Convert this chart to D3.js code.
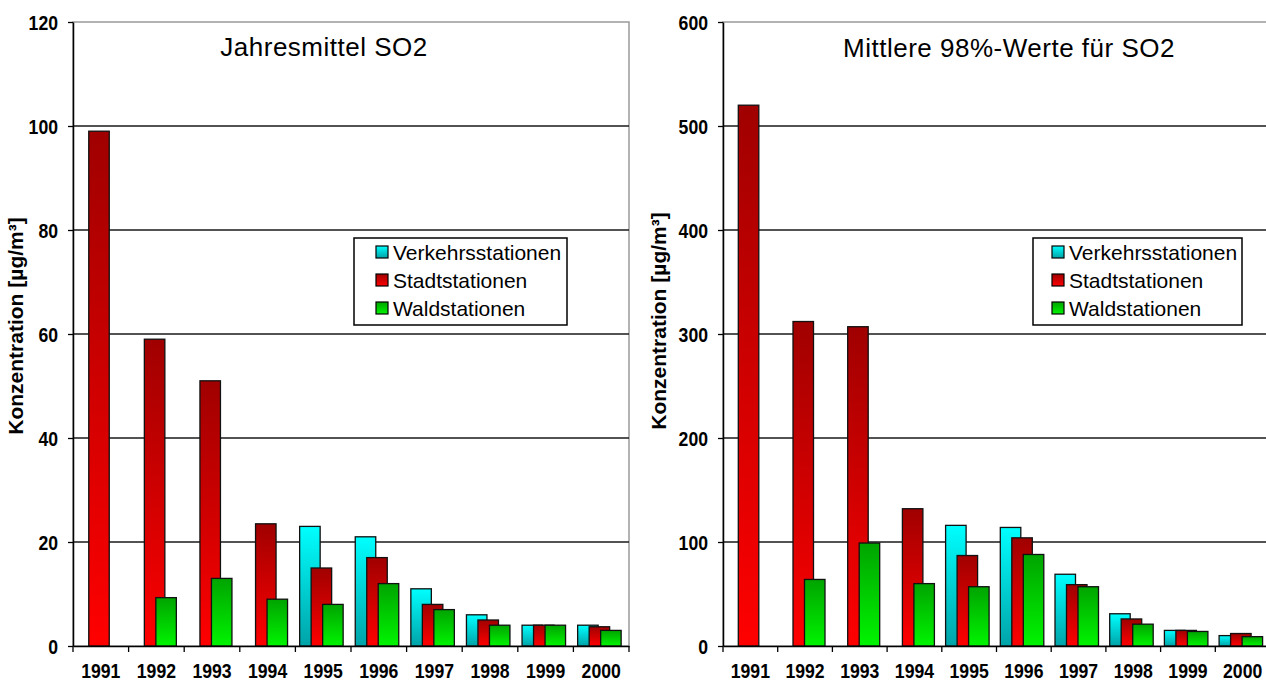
<!DOCTYPE html>
<html>
<head>
<meta charset="utf-8">
<script src="https://cdn.jsdelivr.net/npm/d3@7"></script>
<style>
  html, body { margin: 0; padding: 0; background: #fff; }
  svg { display: block; font-family: "Liberation Sans", Arial, sans-serif; }
</style>
</head>
<body>
<svg id="chart" width="1266" height="682"></svg>
<script>
// Station categories and yearly SO2 values (µg/m³)
const years = ["1991","1992","1993","1994","1995","1996","1997","1998","1999","2000"];
const seriesNames = ["Verkehrsstationen", "Stadtstationen", "Waldstationen"];

// Annual means
const meanVerkehr = [null, null, null, null, 23, 21, 11, 6, 4, 4];
const meanStadt   = [99, 59, 51, 23.5, 15, 17, 8, 5, 4, 3.7];
const meanWald    = [null, 9.3, 13, 9, 8, 12, 7, 4, 4, 3];

// Mean 98th percentile values
const p98Verkehr = [null, null, null, null, 116, 114, 69, 31, 15, 10];
const p98Stadt   = [520, 312, 307, 132, 87, 104, 59, 26, 15, 12];
const p98Wald    = [null, 64, 99, 60, 57, 88, 57, 21, 14, 9];

// Axis ticks
const meanTicks = [0, 20, 40, 60, 80, 100, 120];
const p98Ticks  = [0, 100, 200, 300, 400, 500, 600];

const svg = d3.select("#chart");
const defs = svg.append("defs");

// Vertical gradients per series (top colour -> bottom colour)
const gradients = [
  { id: "gVerkehr", top: "#00ffff", bottom: "#00a3a8" },
  { id: "gStadt",   top: "#a00000", bottom: "#ff0000" },
  { id: "gWald",    top: "#00a400", bottom: "#00f400" }
];
gradients.forEach(g => {
  const lg = defs.append("linearGradient")
    .attr("id", g.id).attr("x1", 0).attr("y1", 0).attr("x2", 0).attr("y2", 1);
  lg.append("stop").attr("offset", "0%").attr("stop-color", g.top);
  lg.append("stop").attr("offset", "100%").attr("stop-color", g.bottom);
});

const condensed = 0.84;

function drawChart(cfg) {
  const g = svg.append("g");
  const x = d3.scaleBand().domain(years).range([cfg.left, cfg.right]);
  const y = d3.scaleLinear().domain([0, cfg.max]).range([cfg.bottom, cfg.top]);

  // Plot frame (grey) and gridlines
  g.append("rect")
    .attr("x", cfg.left).attr("y", cfg.top)
    .attr("width", cfg.right - cfg.left).attr("height", cfg.bottom - cfg.top)
    .attr("fill", "none").attr("stroke", "#9a9a9a").attr("stroke-width", 1.5);

  g.append("g").selectAll("line")
    .data(cfg.ticks.filter(t => t > 0 && t < cfg.max))
    .join("line")
    .attr("x1", cfg.left).attr("x2", cfg.right)
    .attr("y1", d => y(d)).attr("y2", d => y(d))
    .attr("stroke", "#1a1a1a").attr("stroke-width", 1.5);

  // Bars: three overlapping columns per year
  const barW = 20.5, step = 11.5, shift = -1.8;
  cfg.series.forEach((vals, si) => {
    g.append("g").selectAll("rect")
      .data(years.map((yr, i) => ({ yr, v: vals[i] })).filter(d => d.v != null))
      .join("rect")
      .attr("x", d => x(d.yr) + x.bandwidth() / 2 + shift + (si - 1) * step - barW / 2)
      .attr("y", d => y(d.v))
      .attr("width", barW)
      .attr("height", d => y(0) - y(d.v))
      .attr("fill", `url(#${gradients[si].id})`)
      .attr("stroke", "#111").attr("stroke-width", 1.3);
  });

  // Y axis
  const yAxis = g.append("g")
    .attr("transform", `translate(${cfg.left},0)`)
    .call(d3.axisLeft(y).tickValues(cfg.ticks).tickSize(5).tickPadding(0).tickSizeOuter(0));
  yAxis.select(".domain").attr("stroke", "#000").attr("stroke-width", 1.5);
  yAxis.selectAll(".tick line").attr("stroke", "#000").attr("stroke-width", 1.3);
  yAxis.selectAll(".tick text")
    .attr("x", -15 / condensed)
    .attr("dy", "0.36em")
    .attr("transform", `scale(${condensed},1)`)
    .style("font-size", "21px").style("font-weight", "bold").attr("fill", "#000");

  // X axis: labels centred on years, tick marks between years
  const xAxis = g.append("g")
    .attr("transform", `translate(0,${cfg.bottom})`)
    .call(d3.axisBottom(x).tickSize(0).tickPadding(0));
  xAxis.select(".domain").attr("stroke", "#000").attr("stroke-width", 1.5);
  xAxis.selectAll(".tick text")
    .attr("y", 0).attr("dy", 32)
    .attr("transform", `scale(${condensed},1)`)
    .style("font-size", "21px").style("font-weight", "bold").attr("fill", "#000");

  g.append("g").selectAll("line")
    .data(years.map(yr => x(yr)).concat([cfg.right]))
    .join("line")
    .attr("x1", d => d).attr("x2", d => d)
    .attr("y1", cfg.bottom).attr("y2", cfg.bottom + 6)
    .attr("stroke", "#000").attr("stroke-width", 1.3);

  // Title
  g.append("text")
    .attr("x", cfg.titleX).attr("y", cfg.titleY)
    .attr("text-anchor", "middle")
    .style("font-size", "26px").style("letter-spacing", "0.5px")
    .attr("fill", "#000")
    .text(cfg.title);

  // Y axis label
  g.append("text")
    .attr("transform", `translate(${cfg.labelX},${cfg.labelY}) rotate(-90)`)
    .attr("text-anchor", "middle").attr("dy", "0.36em")
    .style("font-size", "21px").style("font-weight", "bold")
    .attr("fill", "#000")
    .text("Konzentration [µg/m³]");

  // Legend
  const lg = g.append("g");
  lg.append("rect")
    .attr("x", cfg.legend.x).attr("y", cfg.legend.y)
    .attr("width", cfg.legend.w).attr("height", cfg.legend.h)
    .attr("fill", "#fff").attr("stroke", "#000").attr("stroke-width", 1.5);
  const rows = lg.selectAll("g.row").data(seriesNames).join("g")
    .attr("transform", (d, i) => `translate(0,${cfg.legend.y + 14 + i * 28})`);
  rows.append("rect")
    .attr("x", cfg.legend.x + cfg.legend.swatch).attr("y", -6)
    .attr("width", 12).attr("height", 12)
    .attr("fill", (d, i) => `url(#${gradients[i].id})`)
    .attr("stroke", "#000").attr("stroke-width", 1.2);
  rows.append("text")
    .attr("x", cfg.legend.x + cfg.legend.swatch + 17).attr("dy", "0.36em")
    .style("font-size", "21px").attr("fill", "#000")
    .text(d => d);
}

drawChart({
  left: 73, right: 629, top: 22, bottom: 646, max: 120, ticks: meanTicks,
  series: [meanVerkehr, meanStadt, meanWald],
  title: "Jahresmittel SO2", titleX: 324, titleY: 56,
  labelX: 15, labelY: 326,
  legend: { x: 354, y: 238, w: 213, h: 87, swatch: 22 }
});

drawChart({
  left: 723, right: 1270, top: 22, bottom: 646, max: 600, ticks: p98Ticks,
  series: [p98Verkehr, p98Stadt, p98Wald],
  title: "Mittlere 98%-Werte für SO2", titleX: 1009, titleY: 57,
  labelX: 658, labelY: 321,
  legend: { x: 1033, y: 238, w: 209, h: 87, swatch: 19 }
});
</script>
</body>
</html>
